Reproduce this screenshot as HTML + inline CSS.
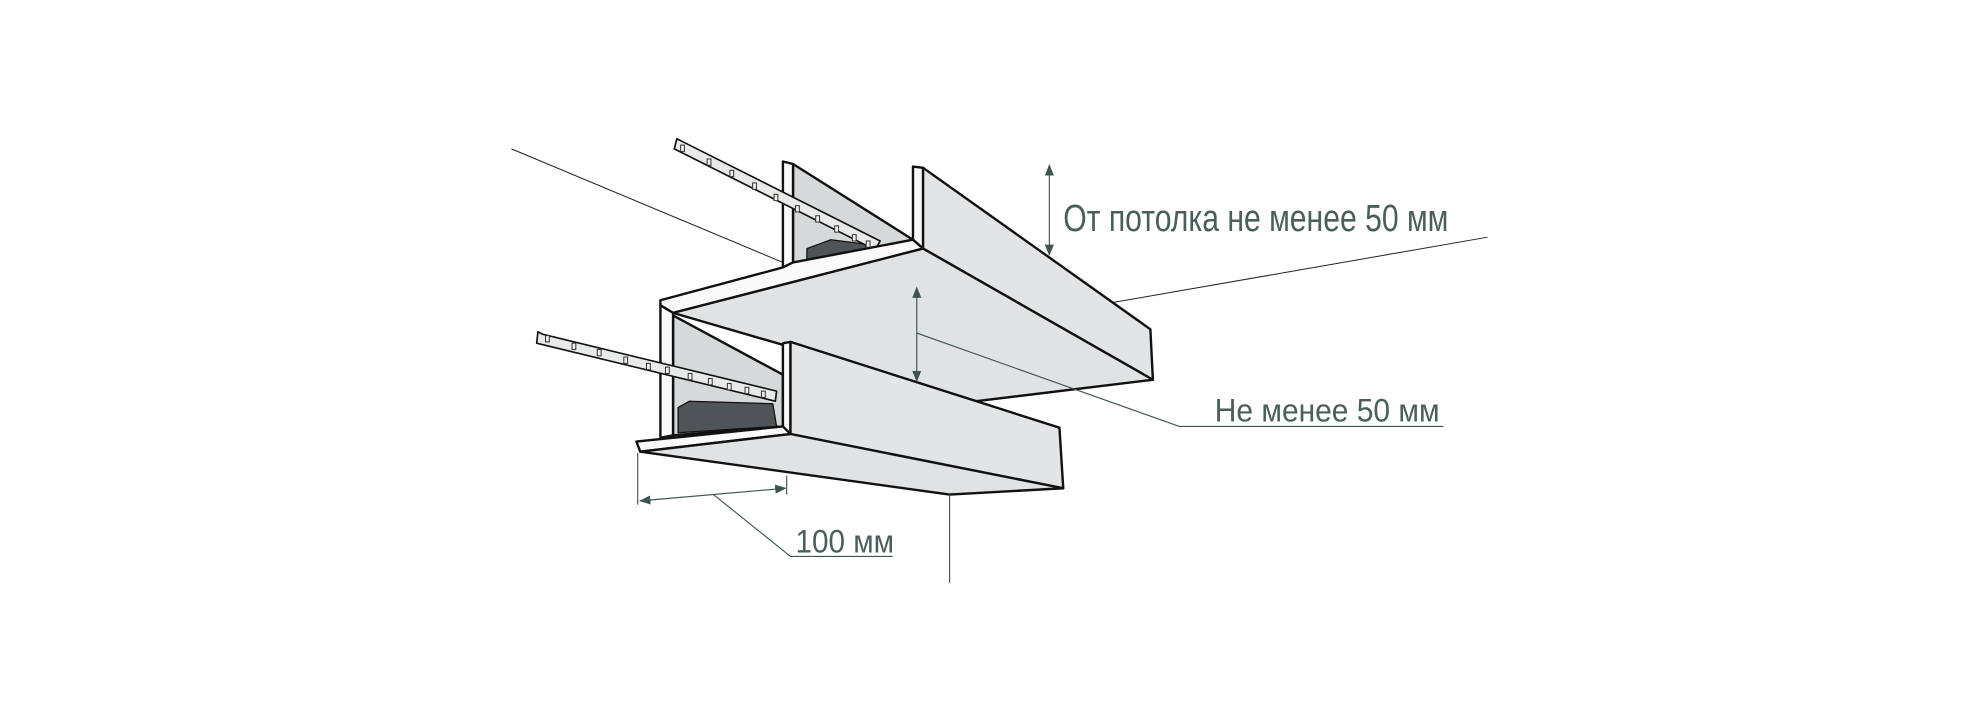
<!DOCTYPE html>
<html><head><meta charset="utf-8"><style>
html,body{margin:0;padding:0;background:#fff;}
svg{display:block;}
text{font-family:"Liberation Sans Narrow","Liberation Sans",sans-serif;fill:#4a5f5c;}
</style></head><body>
<svg width="1980" height="704" viewBox="0 0 1568 558" preserveAspectRatio="none" xmlns="http://www.w3.org/2000/svg">
<defs>
<marker id="ar" viewBox="0 0 10 10" refX="9" refY="5" markerWidth="9" markerHeight="9" orient="auto-start-reverse" markerUnits="userSpaceOnUse"><path d="M0,1 L10,5 L0,9 z" fill="#3d5552"/></marker>
</defs>
<line x1="405" y1="118" x2="620" y2="208" stroke="#222" stroke-width="0.8"/>
<line x1="880" y1="240" x2="1178" y2="188" stroke="#222" stroke-width="0.8"/>

<g stroke="#111" stroke-width="1.9" stroke-linejoin="round">
<polygon points="628,130 723,190 723,193 628,210" fill="#d6d9da"/>
<polygon points="639,197 658,190 697,195 692,206 639,210" fill="#4f5557" stroke-width="1"/>
<polygon points="620,128 628,130 628,208 620,212" fill="#fafafa"/>
<polygon points="536,110 542,113 697,191 693,198 534,118" fill="#e8e9e9" stroke-width="1.3"/>
<polygon points="723,132 731,133 731,197 723,193" fill="#fafafa"/>
<polygon points="620,212 628,208 723,190 731,197 533,248 523,242 523,238" fill="#fafafa"/>
<polygon points="731,133 911,261 913,301 731,197" fill="#e2e4e5"/>
<polygon points="731,197 913,301 773,318 533,248" fill="#e0e2e3"/>
<polygon points="533,250 620,297 620,338 533,345" fill="#d6d9da"/>
<polygon points="537,323 546,318 612,320 615,338 537,343" fill="#4f5557" stroke-width="1"/>
<polygon points="523,242 533,248 533,345 523,347" fill="#fafafa"/>
<polygon points="426,263 430,265 615,310 614,318 425,272" fill="#e8e9e9" stroke-width="1.3"/>
<polygon points="620,272 626,271 626,344 620,341" fill="#fafafa"/>
<polygon points="504,350 620,338 626,344 507,358" fill="#fafafa"/>
<polygon points="626,271 839,339 842,387 626,344" fill="#e2e4e5"/>
<polygon points="626,344 842,387 752,392 507,358" fill="#e0e2e3"/>
</g>
<g fill="#f4f3e6" stroke="#333" stroke-width="0.8">
<rect x="539" y="115" width="3" height="5"/><rect x="560" y="126" width="3" height="5"/><rect x="578" y="135" width="3" height="5"/><rect x="596" y="145" width="3" height="5"/><rect x="613" y="154" width="3" height="5"/><rect x="630" y="163" width="3" height="5"/><rect x="646" y="171" width="3" height="5"/><rect x="661" y="179" width="3" height="5"/><rect x="675" y="186" width="3" height="5"/><rect x="686" y="191" width="3" height="5"/>
<rect x="432" y="266" width="3" height="5"/><rect x="453" y="272" width="3" height="5"/><rect x="473" y="277" width="3" height="5"/><rect x="494" y="283" width="3" height="5"/><rect x="512" y="288" width="3" height="5"/><rect x="527" y="291" width="3" height="5"/><rect x="545" y="296" width="3" height="5"/><rect x="561" y="300" width="3" height="5"/><rect x="576" y="304" width="3" height="5"/><rect x="590" y="307" width="3" height="5"/><rect x="603" y="310" width="3" height="5"/>
</g>
<g stroke="#3d5552" stroke-width="0.9" fill="none">
<line x1="831" y1="131" x2="831" y2="202" marker-start="url(#ar)" marker-end="url(#ar)"/>
<line x1="726" y1="228" x2="726" y2="302" marker-start="url(#ar)" marker-end="url(#ar)"/>
<polyline points="726,264 934,338 1143,338"/>
<line x1="505" y1="359" x2="505" y2="400"/>
<line x1="623" y1="377" x2="623" y2="392"/>
<line x1="507" y1="397" x2="622" y2="387" marker-start="url(#ar)" marker-end="url(#ar)"/>
<polyline points="565,392 626,441 707,441"/>
<line x1="752" y1="392" x2="752" y2="462"/>
</g>
<text x="842" y="183" font-size="30" textLength="305" lengthAdjust="spacingAndGlyphs">От потолка не менее 50 мм</text>
<text x="962" y="334" font-size="26" textLength="178" lengthAdjust="spacingAndGlyphs">Не менее 50 мм</text>
<text x="630" y="438" font-size="26" textLength="78" lengthAdjust="spacingAndGlyphs">100 мм</text>
</svg>
</body></html>
